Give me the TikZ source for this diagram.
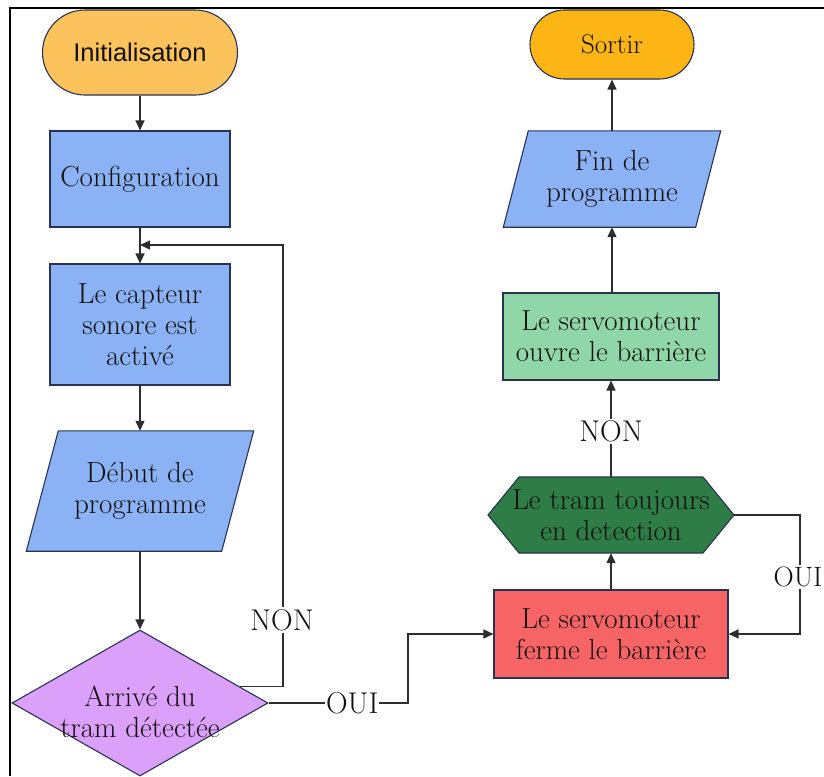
\documentclass[tikz,border=0pt]{standalone}
\usepackage{fontspec}
\newfontfamily\sansf{Liberation Sans}
\usetikzlibrary{shapes.geometric,shapes.misc,arrows.meta,backgrounds,calc}
\definecolor{cInit}{RGB}{252,195,92}
\definecolor{cSortir}{RGB}{253,181,22}
\definecolor{cBlue}{RGB}{138,178,244}
\definecolor{cPurple}{RGB}{218,160,250}
\definecolor{cRed}{RGB}{246,100,102}
\definecolor{cDkGreen}{RGB}{46,124,70}
\definecolor{cLtGreen}{RGB}{143,214,168}
\definecolor{cBorder}{RGB}{42,50,82}
\definecolor{cLine}{RGB}{45,45,45}
\definecolor{cText}{RGB}{20,16,16}
\begin{document}
\begin{tikzpicture}[x=1pt,y=-1pt,
  shapebox/.style={draw=cBorder, line width=1.1pt},
  txt/.style={align=center, inner sep=0pt, text=cText, font=\fontsize{29}{31}\selectfont},
  boxnode/.style={txt, rectangle, shapebox},
  plainnode/.style={txt, rectangle},
  termnode/.style={rounded rectangle, shapebox, inner sep=0pt, text=cText},
  conn/.style={draw=cLine, line width=1.3pt},
  arr/.style={conn, -{Triangle[length=10pt,width=9pt]}},
  lbl/.style={fill=white, inner xsep=1pt, inner ysep=2pt, text=cText, font=\fontsize{30}{31}\selectfont}
]
\useasboundingbox (0,0) rectangle (824,776);
\draw[line width=2pt, black] (10,776) -- (10,8) -- (824,8);

% left column
\node[termnode, fill=cInit, minimum width=195, minimum height=85,
      font=\sansf\fontsize{25.5}{30}\selectfont] (init) at (140,52.5) {Initialisation};
\node[boxnode, fill=cBlue, minimum width=180, minimum height=96] (conf) at (140,179) {Configuration};
\node[boxnode, fill=cBlue, minimum width=180, minimum height=121] (capt) at (140,324.5) {Le capteur\\sonore est\\activé};
\node[plainnode, minimum width=195, minimum height=120] (deb) at (140,491) {Début de\\programme};
\node[diamond, shapebox, fill=cPurple, aspect=1.753, minimum width=256, minimum height=146, inner sep=0pt] (arrv) at (140,703) {};
\node[txt] (arrvtxt) at (140,712) {Arrivé du\\tram détectée};

% right column
\node[termnode, fill=cSortir, minimum width=164, minimum height=69,
      font=\fontsize{27}{31}\selectfont] (sortir) at (612,44.5) {Sortir};
\node[plainnode, minimum width=192, minimum height=96] (fin) at (612,179) {Fin de\\programme};
\node[boxnode, fill=cLtGreen, minimum width=216, minimum height=87] (ouvre) at (611,336.5) {Le servomoteur\\ouvre le barrière};
\node[plainnode, minimum height=76] (hex) at (611,515) {Le tram toujours\\en detection};
\node[boxnode, fill=cRed, minimum width=234, minimum height=88] (ferme) at (611,634) {Le servomoteur\\ferme le barrière};

\begin{scope}[on background layer]
  \draw[shapebox, fill=cBlue] ([xshift=16]deb.north west) -- ([xshift=16]deb.north east)
     -- ([xshift=-16]deb.south east) -- ([xshift=-16]deb.south west) -- cycle;
  \draw[shapebox, fill=cBlue] ([xshift=12.5]fin.north west) -- ([xshift=12.5]fin.north east)
     -- ([xshift=-12.5]fin.south east) -- ([xshift=-12.5]fin.south west) -- cycle;
  \draw[shapebox, fill=cDkGreen] ($(hex.center)+(-92,-38)$) -- ($(hex.center)+(92,-38)$)
     -- ($(hex.center)+(123,0)$) -- ($(hex.center)+(92,38)$) -- ($(hex.center)+(-92,38)$)
     -- ($(hex.center)+(-123,0)$) -- cycle;
\end{scope}

\coordinate (hexR) at ($(hex.center)+(123,0)$);
\coordinate (nonStart) at ($(arrv.east)!0.22!(arrv.north)$);
\coordinate (loopTop) at (283,245);
\coordinate (ouiBend) at (408,703);
\coordinate (ouiRight) at (800,515);

% connectors
\draw[arr] (init.south) -- (conf.north);
\draw[arr] (conf.south) -- (capt.north);
\draw[arr] (capt.south) -- (deb.north);
\draw[arr] (deb.south) -- (arrv.north);
\draw[arr] (nonStart) -| (loopTop) -- (conf.south |- loopTop);
\node[lbl] at (282,620) {NON};
\draw[arr] (arrv.east) -- node[lbl, pos=0.6] {OUI} (ouiBend) |- (ferme.west);
\draw[arr] (ferme.north) -- (hex.south);
\draw[arr] (hexR) -| (ferme.east -| ouiRight) -- (ferme.east);
\node[lbl, font=\fontsize{28}{31}\selectfont] at (798,577) {OUI};
\draw[arr] (hex.north) -- node[lbl, pos=0.47] {NON} (ouvre.south);
\draw[arr] (ouvre.north -| fin.south) -- (fin.south);
\draw[arr] (fin.north) -- (sortir.south);
\end{tikzpicture}
\end{document}
